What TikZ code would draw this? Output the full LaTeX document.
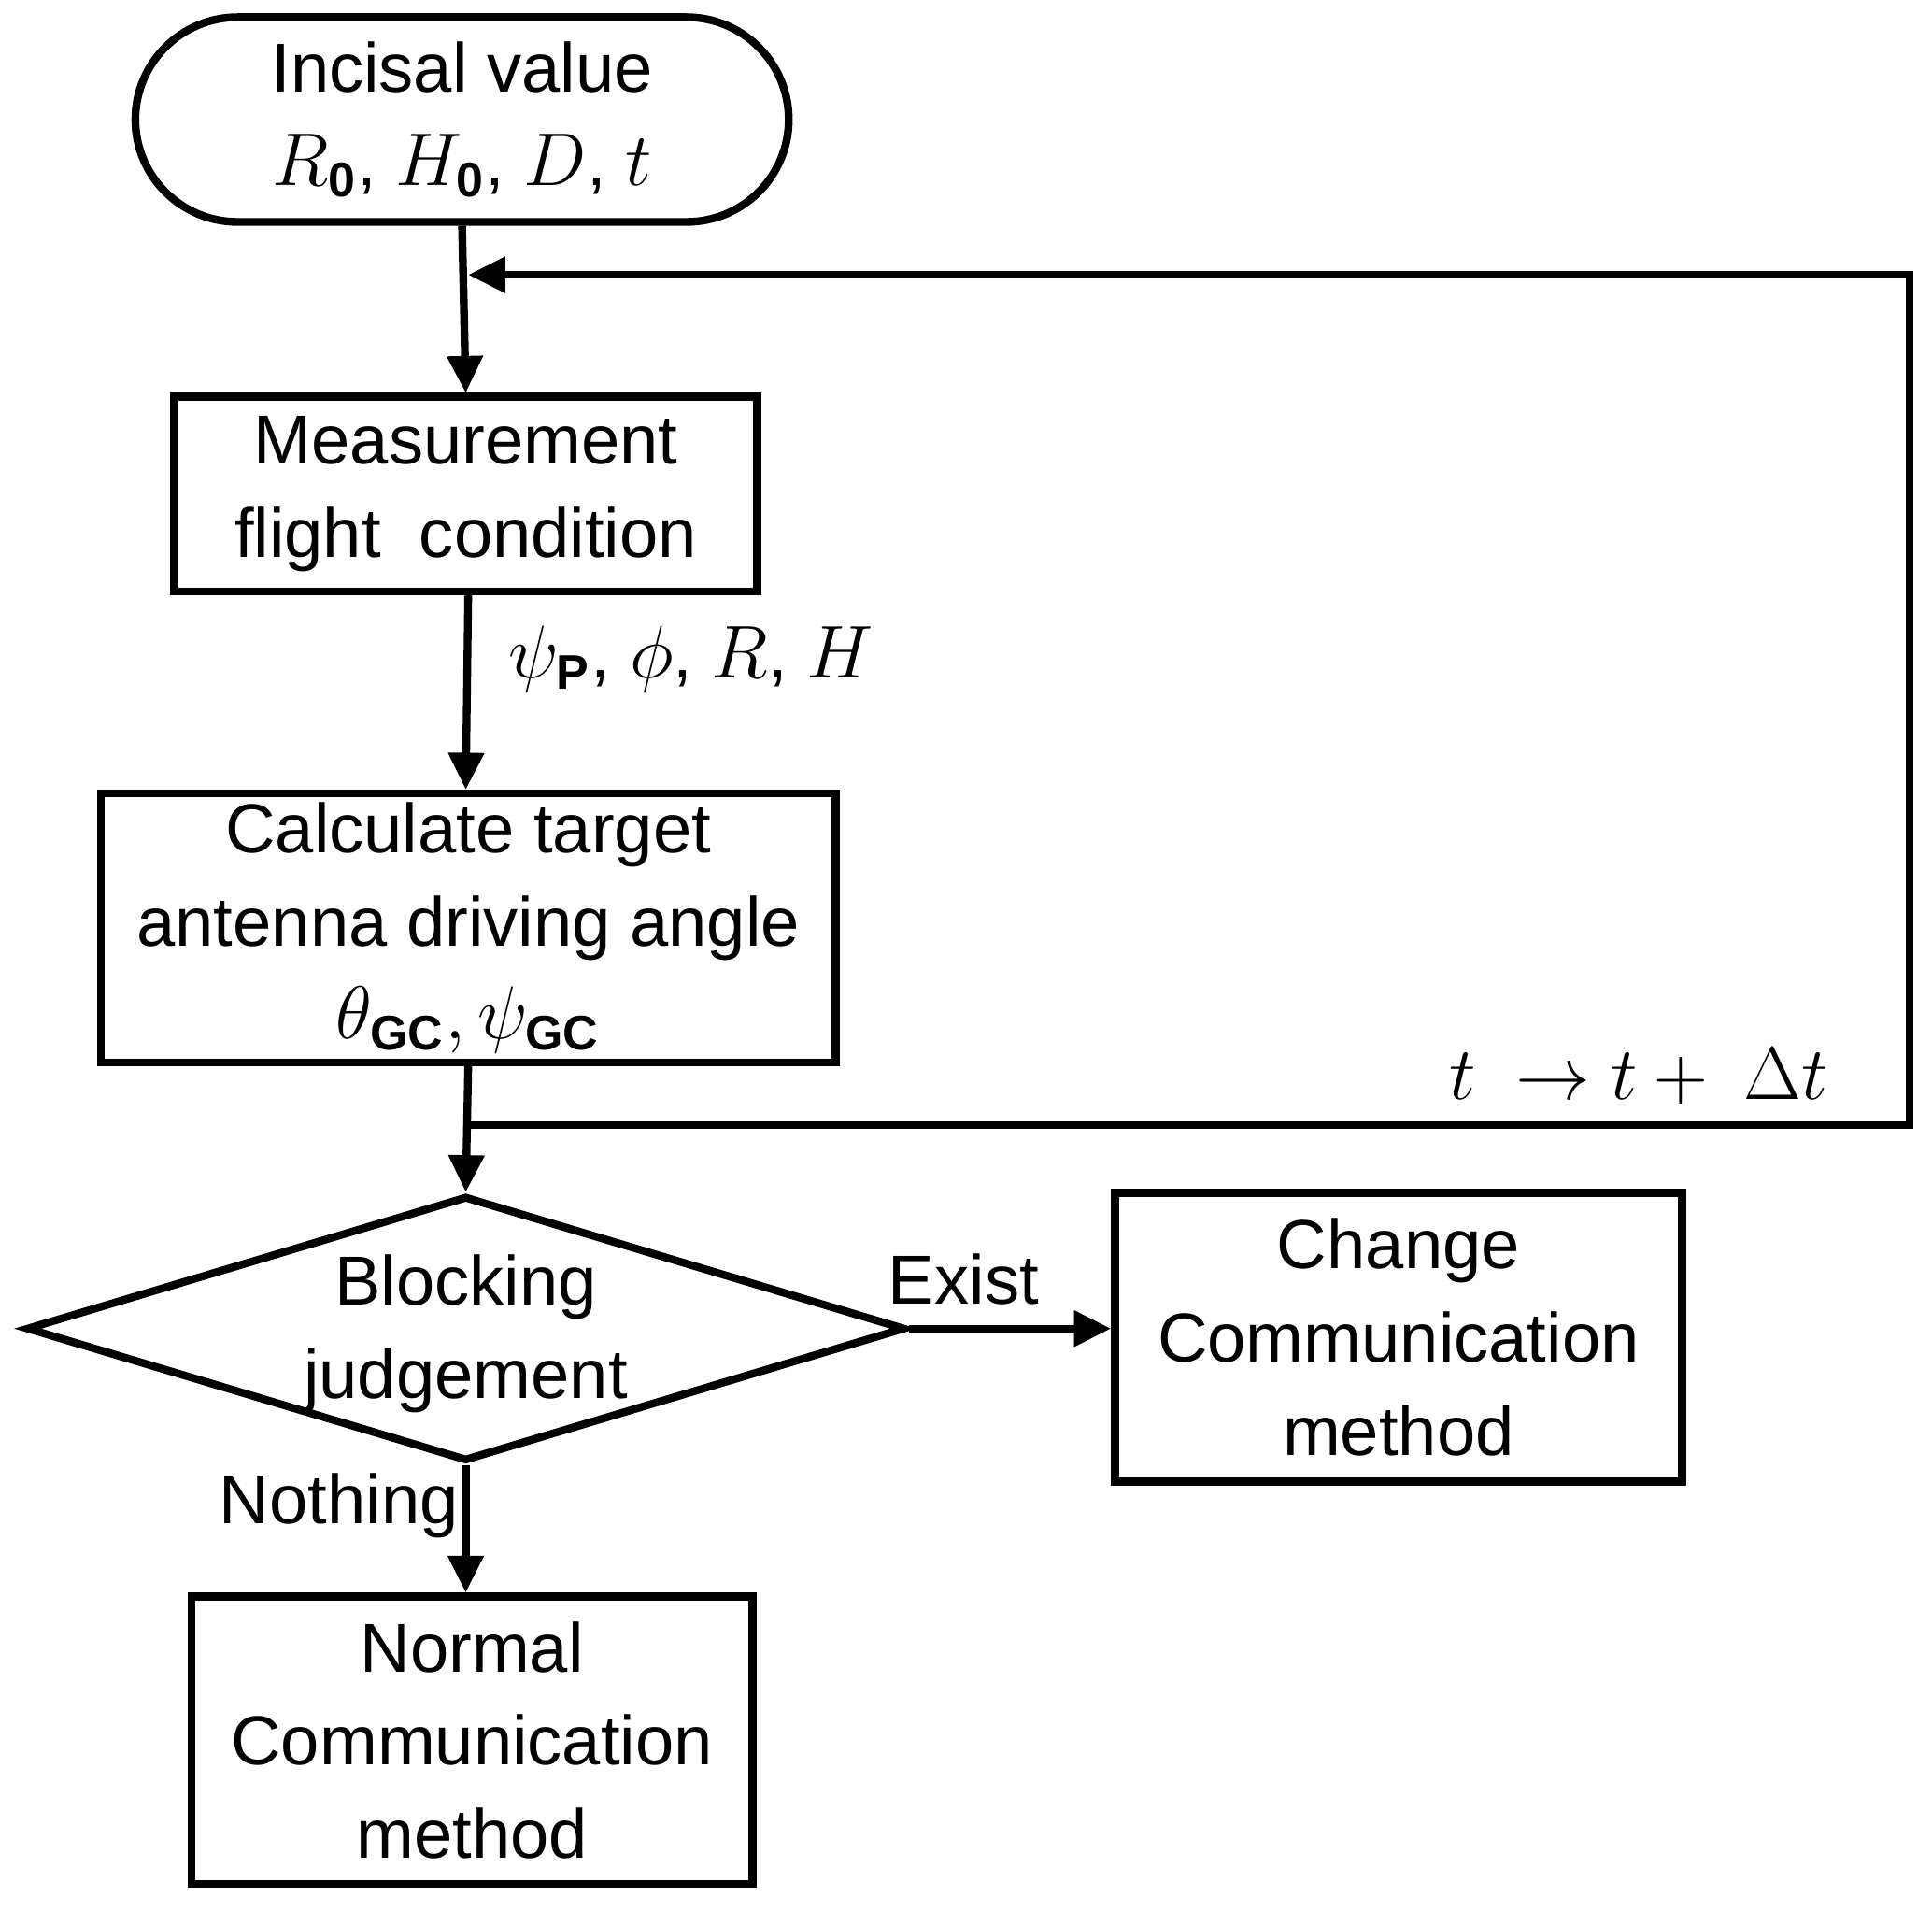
\documentclass[tikz,border=0pt]{standalone}
\usepackage{fontspec}
\setmainfont{Liberation Sans}
\usetikzlibrary{shapes.geometric,arrows.meta}
\begin{document}
\begin{tikzpicture}[x=0.01cm,y=-0.01cm,line width=1.8pt,
  every node/.style={font=\fontsize{16}{19.5}\selectfont,align=center,inner sep=0pt},
  box/.style={draw,rectangle},
  arr/.style={-{Triangle[length=0.3cm,width=0.28cm]}},
  lbl/.style={font=\fontsize{16}{19.5}\selectfont}]
\useasboundingbox (0,0) rectangle (1568,1550);
\node[box,rounded corners=0.83cm,minimum width=5.3cm,minimum height=1.66cm] (start) at (375,97) {Incisal value\\[2pt] $R_{\mathbf 0}$, $H_{\mathbf 0}$, $D$, $t$};
\node[box,minimum width=4.73cm,minimum height=1.58cm] (meas) at (378,401) {Measurement\\[2pt] flight\ \ condition};
\node[box,minimum width=5.96cm,minimum height=2.18cm] (calc) at (380,753) {Calculate target\\[2pt] antenna driving angle\\[2pt] $\theta_{\mathbf{GC}},\psi_{\mathbf{GC}}$};
\node[draw,diamond,aspect=3.3,minimum width=7.13cm,minimum height=2.15cm] (dec) at (378,1078) {};
\node at (378,1082) {Blocking\\[2pt] judgement};
\node[box,minimum width=4.6cm,minimum height=2.34cm] (chg) at (1135,1085) {Change\\[2pt] Communication\\[2pt] method};
\node[box,minimum width=4.55cm,minimum height=2.33cm] (nor) at (383,1412) {Normal\\[2pt] Communication\\[2pt] method};
\draw[arr] (start.south) -- (meas.north);
\draw[arr] (meas.south) -- (calc.south |- meas.south) -- ([xshift=0cm]calc.north -| meas.south);
\draw[arr] (calc.south) -- (dec.north);
\draw[arr] (dec.east) -- (chg.west |- dec.east);
\draw[arr] (dec.south) -- (dec.south |- nor.north);
\coordinate (j) at (380,913);
\coordinate (c1) at (1550,913);
\coordinate (c2) at (1550,223);
\coordinate (c3) at (380,223);
\draw[arr] (j) -- (c1) -- (c2) -- (c3);
\node[anchor=west] at (410,535) {$\psi_{\mathbf P}$, $\phi$, $R$, $H$};
\node at (1330,873) {$t\ \to t+\ \Delta t$};
\node at (782,1038) {Exist};
\node at (275,1222) {Nothing};
\end{tikzpicture}
\end{document}
